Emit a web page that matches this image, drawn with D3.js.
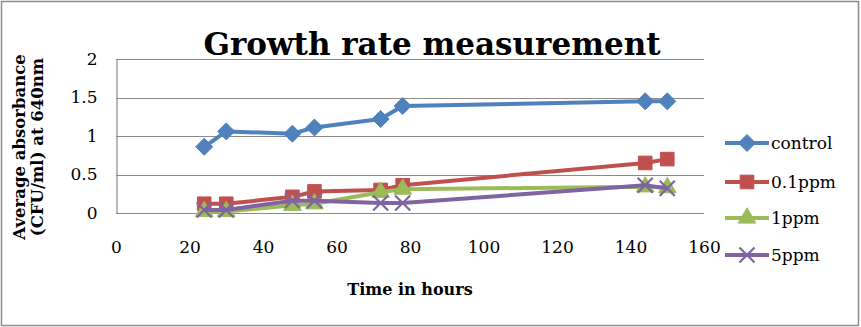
<!DOCTYPE html>
<html>
<head>
<meta charset="utf-8">
<script src="https://cdn.jsdelivr.net/npm/d3@7/dist/d3.min.js"></script>
<style>
  html, body { margin: 0; padding: 0; background: #fff; }
  svg { display: block; }
</style>
</head>
<body>
<svg id="chart" width="861" height="327"></svg>
<script>
// Sampling times (hours)
const hours = [24, 30, 48, 54, 72, 78, 144, 150];

// Average absorbance at 640nm per treatment
const control = [0.86, 1.06, 1.03, 1.11, 1.22, 1.39, 1.45, 1.45];
const ppm01   = [0.12, 0.12, 0.21, 0.28, 0.30, 0.36, 0.65, 0.70];
const ppm1    = [0.02, 0.02, 0.10, 0.12, 0.27, 0.31, 0.34, 0.33];
const ppm5    = [0.04, 0.04, 0.16, 0.16, 0.13, 0.13, 0.36, 0.32];

const seriesNames = ["control", "0.1ppm", "1ppm", "5ppm"];
const xTicks = [0, 20, 40, 60, 80, 100, 120, 140, 160];
const yTicks = [0, 0.5, 1, 1.5, 2];

const series = [
  { name: seriesNames[0], values: control, color: "#4F81BD", marker: "diamond" },
  { name: seriesNames[1], values: ppm01,   color: "#C0504D", marker: "square" },
  { name: seriesNames[2], values: ppm1,    color: "#9BBB59", marker: "triangle" },
  { name: seriesNames[3], values: ppm5,    color: "#8064A2", marker: "cross" }
];

const svg = d3.select("#chart");
const W = 861, H = 327;
const serif = "'DejaVu Serif', 'Liberation Serif', serif";

// outer frame
svg.append("rect")
  .attr("x", 1.5).attr("y", 1.5).attr("width", W - 4).attr("height", H - 3)
  .attr("fill", "#fff").attr("stroke", "#8c8c8c").attr("stroke-width", 1.5);

const plot = { left: 116, right: 704, top: 59, bottom: 213 };

const x = d3.scaleLinear().domain([0, 160]).range([plot.left, plot.right]);
const y = d3.scaleLinear().domain([0, 2]).range([plot.bottom, plot.top]);

// horizontal gridlines
svg.append("g")
  .selectAll("line")
  .data(yTicks)
  .join("line")
  .attr("x1", plot.left).attr("x2", plot.right)
  .attr("y1", d => Math.round(y(d)) + 0.5).attr("y2", d => Math.round(y(d)) + 0.5)
  .attr("stroke", "#8a8a8a").attr("stroke-width", 1.2);

// y axis
const yAxis = svg.append("g")
  .attr("transform", `translate(${plot.left + 0.5},0)`)
  .call(d3.axisLeft(y).tickValues(yTicks).tickSize(0).tickPadding(19).tickFormat(d3.format("")));
yAxis.select(".domain").attr("stroke", "#8a8a8a").attr("stroke-width", 1.2);
yAxis.selectAll("text")
  .attr("font-family", serif).attr("font-size", 17).attr("fill", "#000");

// x axis (labels only; the zero gridline acts as the baseline)
const xAxis = svg.append("g")
  .attr("transform", `translate(0,${plot.bottom})`)
  .call(d3.axisBottom(x).tickValues(xTicks).tickSize(0).tickPadding(28).tickFormat(d3.format("")));
xAxis.select(".domain").remove();
xAxis.selectAll("text")
  .attr("font-family", serif).attr("font-size", 17).attr("fill", "#000");

// markers: diamond is a square turned 45 degrees
const symbolFor = {
  diamond: () => "M0,-8.5L8.5,0L0,8.5L-8.5,0Z",
  square: d3.symbol(d3.symbolSquare, 185),
  triangle: d3.symbol(d3.symbolTriangle, 135),
  cross: d3.symbol(d3.symbolX, 150)
};

function drawMarker(g, s, cx, cy) {
  const p = g.append("path")
    .attr("d", symbolFor[s.marker]())
    .attr("transform", `translate(${cx},${cy})`);
  if (s.marker === "cross") {
    p.attr("fill", "none").attr("stroke", s.color).attr("stroke-width", 2.2);
  } else {
    p.attr("fill", s.color).attr("stroke", s.color).attr("stroke-width", 1);
  }
}

const line = d3.line().x(d => x(d[0])).y(d => y(d[1]));

series.forEach(s => {
  const pts = hours.map((h, i) => [h, s.values[i]]);
  const g = svg.append("g");
  g.append("path")
    .attr("d", line(pts))
    .attr("fill", "none").attr("stroke", s.color)
    .attr("stroke-width", 4).attr("stroke-linejoin", "round");
  pts.forEach(p => drawMarker(g, s, x(p[0]), y(p[1])));
});

// title
svg.append("text")
  .attr("x", 432).attr("y", 55)
  .attr("text-anchor", "middle")
  .attr("font-family", serif).attr("font-weight", "bold").attr("font-size", 31)
  .text("Growth rate measurement");

// axis titles
svg.append("text")
  .attr("x", 410).attr("y", 295)
  .attr("text-anchor", "middle")
  .attr("font-family", serif).attr("font-weight", "bold").attr("font-size", 16)
  .text("Time in hours");

const yt = svg.append("text")
  .attr("transform", "translate(0,147) rotate(-90)")
  .attr("text-anchor", "middle")
  .attr("font-family", serif).attr("font-weight", "bold").attr("font-size", 16.5);
yt.append("tspan").attr("x", 0).attr("y", 25).text("Average absorbance");
yt.append("tspan").attr("x", 0).attr("y", 43).text("(CFU/ml) at 640nm");

// legend
const legendY = [143, 182, 218, 255];
const lg = svg.append("g");
series.forEach((s, i) => {
  const ly = legendY[i];
  lg.append("line")
    .attr("x1", 725).attr("x2", 769).attr("y1", ly).attr("y2", ly)
    .attr("stroke", s.color).attr("stroke-width", 4);
  drawMarker(lg, s, 747, ly);
  lg.append("text")
    .attr("x", 771).attr("y", ly + 6)
    .attr("font-family", serif).attr("font-size", 17).attr("fill", "#000")
    .text(s.name);
});
</script>
</body>
</html>
